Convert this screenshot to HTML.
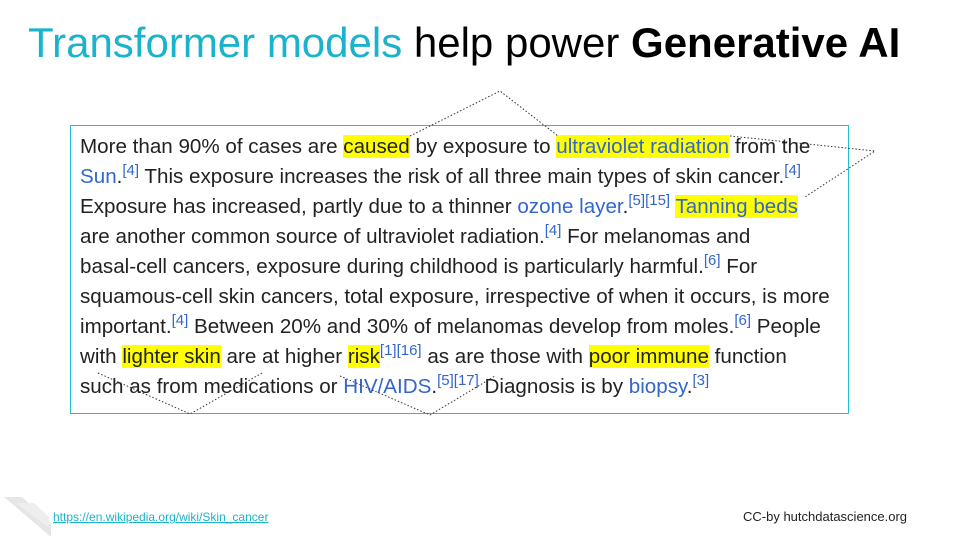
<!DOCTYPE html>
<html><head><meta charset="utf-8"><style>
body{margin:0;width:960px;height:540px;background:#fff;position:relative;overflow:hidden;font-family:"Liberation Sans",Arial,sans-serif}
.title{position:absolute;left:28px;top:19px;font-size:42px;white-space:nowrap;color:#000}
.title .t{color:#1ab3cc}
.box{position:absolute;left:70px;top:125px;width:779px;height:289px;border:1.5px solid #22bfd0;box-sizing:border-box}
.txt{position:absolute;left:80px;top:132px;font-size:20.6px;line-height:30px;color:#222}
.ln{white-space:nowrap;height:30px}
a{color:#3366cc;text-decoration:none}
.hl{background:#ffff00}
sup{font-size:15px;color:#3366cc;line-height:0}
.url{position:absolute;left:53px;top:510px;font-size:12px;color:#1ab3cc;text-decoration:underline}
.cc{position:absolute;left:743px;top:509px;font-size:13px;color:#222}
svg{position:absolute;left:0;top:0}
</style></head><body>
<div class="title"><span class="t">Transformer models</span> help power <b>Generative AI</b></div>
<div class="box"></div>
<div class="txt">
<div class="ln">More than 90% of cases are <span class="hl">caused</span> by exposure to <a class="hl">ultraviolet radiation</a> from the</div>
<div class="ln"><a>Sun</a>.<sup>[4]</sup> This exposure increases the risk of all three main types of skin cancer.<sup>[4]</sup></div>
<div class="ln">Exposure has increased, partly due to a thinner <a>ozone layer</a>.<sup>[5][15]</sup> <a class="hl">Tanning beds</a></div>
<div class="ln">are another common source of ultraviolet radiation.<sup>[4]</sup> For melanomas and</div>
<div class="ln">basal-cell cancers, exposure during childhood is particularly harmful.<sup>[6]</sup> For</div>
<div class="ln">squamous-cell skin cancers, total exposure, irrespective of when it occurs, is more</div>
<div class="ln">important.<sup>[4]</sup> Between 20% and 30% of melanomas develop from moles.<sup>[6]</sup> People</div>
<div class="ln">with <span class="hl">lighter skin</span> are at higher <span class="hl">risk</span><sup>[1][16]</sup> as are those with <span class="hl">poor immune</span> function</div>
<div class="ln">such as from medications or <a>HIV/AIDS</a>.<sup>[5][17]</sup> Diagnosis is by <a>biopsy</a>.<sup>[3]</sup></div>
</div>
<svg width="960" height="540">
<g fill="none" stroke="#333" stroke-width="1" stroke-dasharray="1.5 2">
<polyline points="410,136 500,91 558,136"/>
<polyline points="730,136 875,151 805,197"/>
<polyline points="98,373 190,414 262,373"/>
<polyline points="340,376 430,415 495,376"/>
</g>
<polygon points="4,497 22,497 51,524 51,537" fill="#e6e6e6"/>
<polygon points="16,503 34,503 49,517 49,528" fill="#eeeeee"/>
</svg>
<div class="url">https://en.wikipedia.org/wiki/Skin_cancer</div>
<div class="cc">CC-by hutchdatascience.org</div>
</body></html>
